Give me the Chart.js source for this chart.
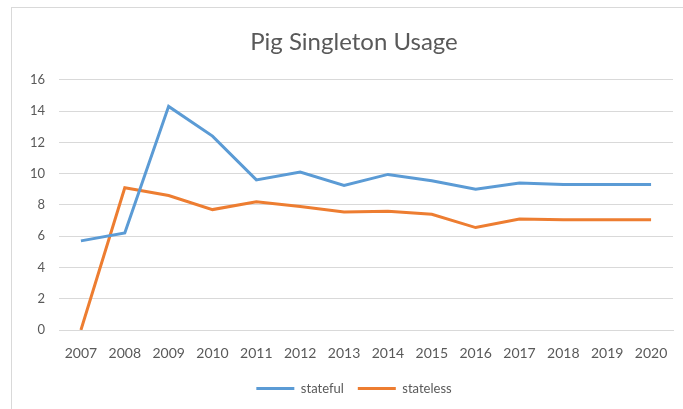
<!DOCTYPE html>
<html>
<head>
<meta charset="utf-8">
<script src="https://cdn.jsdelivr.net/npm/chart.js@4/dist/chart.umd.min.js"></script>
<style>
  html, body { margin: 0; padding: 0; background: #ffffff; }
  #wrap { position: relative; width: 683px; height: 409px; overflow: hidden; }
  #frame { position: absolute; left: 11px; top: 7px; width: 700px; height: 420px; border: 1px solid #d9d9d9; box-sizing: border-box; }
  canvas { position: absolute; left: 0; top: 0; }
</style>
</head>
<body>
<div id="wrap">
  <div id="frame"></div>
  <canvas id="chart" width="683" height="409"></canvas>
</div>
<script>
const years = ['2007','2008','2009','2010','2011','2012','2013','2014','2015','2016','2017','2018','2019','2020'];
const stateful  = [5.7, 6.2, 14.3, 12.4, 9.6, 10.1, 9.25, 9.95, 9.55, 9.0, 9.4, 9.3, 9.3, 9.3];
const stateless = [0, 9.1, 8.6, 7.7, 8.2, 7.9, 7.55, 7.6, 7.4, 6.55, 7.1, 7.05, 7.05, 7.05];
const yTicks = [0, 2, 4, 6, 8, 10, 12, 14, 16];

const textColor = '#595959';
const fontFamily = 'Lato, "Open Sans", sans-serif';

new Chart(document.getElementById('chart'), {
  type: 'line',
  data: {
    labels: years,
    datasets: [
      { label: 'stateful', data: stateful, borderColor: '#5B9BD5', backgroundColor: '#5B9BD5',
        borderWidth: 3, pointRadius: 0, tension: 0 },
      { label: 'stateless', data: stateless, borderColor: '#ED7D31', backgroundColor: '#ED7D31',
        borderWidth: 3, pointRadius: 0, tension: 0 }
    ]
  },
  options: {
    responsive: false,
    animation: false,
    layout: { padding: { left: 35, right: 10, top: 10, bottom: 4 } },
    plugins: {
      title: {
        display: true,
        text: 'Pig Singleton Usage',
        color: textColor,
        font: { family: fontFamily, size: 24, weight: 'normal' },
        padding: { top: 18, bottom: 23 }
      },
      legend: {
        position: 'bottom',
        labels: {
          color: textColor,
          font: { family: fontFamily, size: 13 },
          boxWidth: 38,
          boxHeight: 3,
          padding: 14,
          generateLabels: (chart) =>
            Chart.defaults.plugins.legend.labels.generateLabels(chart)
              .map(l => Object.assign(l, { lineWidth: 0, fillStyle: l.strokeStyle }))
        }
      },
      tooltip: { enabled: false }
    },
    scales: {
      x: {
        offset: true,
        grid: { display: false, drawTicks: false },
        border: { display: true, color: '#d9d9d9' },
        ticks: { color: textColor, font: { family: fontFamily, size: 14 }, padding: 15, maxRotation: 0, autoSkip: false },
        afterFit: (s) => { s.height = 38; }
      },
      y: {
        min: 0,
        max: 16,
        afterBuildTicks: (s) => { s.ticks = yTicks.map(v => ({ value: v })); },
        grid: { color: '#d9d9d9', drawTicks: false },
        border: { display: false },
        // mirrored labels pulled back to the left of the plot so they are not clipped by the narrow axis box
        ticks: { color: textColor, font: { family: fontFamily, size: 13 }, mirror: true, crossAlign: 'far', padding: -29 },
        afterFit: (s) => { s.width = 24; }
      }
    }
  }
});
</script>
</body>
</html>
